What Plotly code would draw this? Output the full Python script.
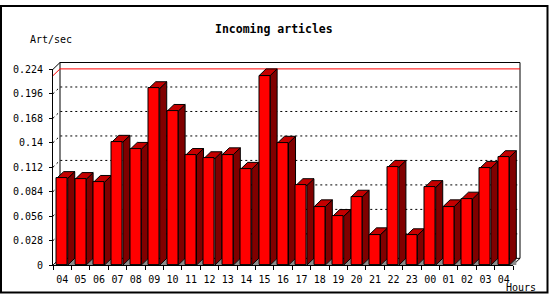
import plotly.graph_objects as go

# ---------------- data ----------------
hours = ["04", "05", "06", "07", "08", "09", "10", "11", "12", "13", "14", "15",
         "16", "17", "18", "19", "20", "21", "22", "23", "00", "01", "02", "03", "04"]
rate = [0.0992, 0.0981, 0.0948, 0.1407, 0.1326, 0.2020, 0.1760, 0.1256, 0.1219,
        0.1264, 0.1098, 0.2167, 0.1396, 0.0911, 0.0669, 0.0558, 0.0779, 0.0349,
        0.1120, 0.0338, 0.0889, 0.0669, 0.0757, 0.1109, 0.1231]
y_tick_vals = [0, 0.028, 0.056, 0.084, 0.112, 0.14, 0.168, 0.196, 0.224]
y_tick_text = ["0", "0.028", "0.056", "0.084", "0.112", "0.14", "0.168", "0.196", "0.224"]
title_text = "Incoming articles"
y_unit = "Art/sec"
x_unit = "Hours"

# ---------------- geometry (pixels) ----------------
W, H = 550, 300
X0 = 53.0          # front axis x
SLOT = 18.4        # category slot width
Y0 = 270.0         # pixel of value 0
YTOP = 66.7        # pixel of top tick
YMAX = y_tick_vals[-1]
PXPU = (Y0 - YTOP) / YMAX
DEPTH = 7.0
BAR_W = 0.6
PAD = 1.5

n = len(hours)
dx = DEPTH / SLOT
dy = DEPTH / PXPU
xs = list(range(n))

px_left = X0 - PAD
px_right = X0 + n * SLOT + DEPTH + PAD
px_bottom = Y0 + PAD
px_top = YTOP - DEPTH - PAD

x_lo = -0.5 - PAD / SLOT
x_hi = n - 0.5 + dx + PAD / SLOT
y_lo = -PAD / PXPU
y_hi = YMAX + dy + PAD / PXPU

FONT = "DejaVu Sans Mono"
RED, TOP, SIDE, SHADOW = "#ff0000", "#c40000", "#800000", "#8c8c8c"
CLEAR = "rgba(0,0,0,0)"

shapes = []
L = -0.5
R = n - 0.5

def poly(pts, fill, line_color="black", width=1, dash=None, closed=True):
    d = "M " + " L ".join(f"{x:.6f},{y:.6f}" for x, y in pts) + (" Z" if closed else "")
    line = dict(color=line_color, width=width)
    if dash:
        line["dash"] = dash
    return dict(type="path", xref="x", yref="y", path=d, fillcolor=fill,
                line=line, layer="below")

# back plane
shapes.append(poly([(L + dx, dy), (R + dx, dy), (R + dx, YMAX + dy), (L + dx, YMAX + dy)], CLEAR))
# dotted grid lines on the back wall
for t in y_tick_vals[1:-1]:
    shapes.append(poly([(L, t), (L + dx, t + dy), (R + dx, t + dy)], CLEAR,
                       dash="2px,3px", closed=False))
# connectors from front to back
shapes.append(poly([(L, YMAX), (L + dx, YMAX + dy)], CLEAR, closed=False))
shapes.append(poly([(L, 0), (L + dx, dy)], CLEAR, closed=False))
shapes.append(poly([(R, 0), (R + dx, dy)], CLEAR, closed=False))
# red maximum line
m = max(rate)
shapes.append(poly([(L, m), (L + dx, m + dy), (R + dx, m + dy)], CLEAR,
                   line_color=RED, closed=False))
# bar depth faces
for x, v in zip(xs, rate):
    xl, xr = x - BAR_W / 2, x + BAR_W / 2
    shapes.append(dict(type="path", xref="x", yref="y",
                       path=f"M {xr:.6f},0 L {xr + dx:.6f},0 L {xr + dx:.6f},{dy:.6f} Z",
                       fillcolor=SHADOW, line=dict(width=0), layer="below"))
    shapes.append(poly([(xr, 0), (xr + dx, dy), (xr + dx, v + dy), (xr, v)], SIDE))
    shapes.append(poly([(xl, v), (xr, v), (xr + dx, v + dy), (xl + dx, v + dy)], TOP))

# outer frame
shapes.append(dict(type="rect", xref="paper", yref="paper",
                   x0=1 / W, x1=547.5 / W, y0=(H - 298.5) / H, y1=(H - 1) / H,
                   line=dict(color="black", width=2), fillcolor=CLEAR))

fig = go.Figure()
fig.add_trace(go.Bar(x=xs, y=rate, width=BAR_W, xaxis="x", yaxis="y",
                     marker=dict(color=RED, line=dict(color="black", width=1)),
                     hoverinfo="skip", showlegend=False))
fig.add_trace(go.Scatter(x=[None], y=[None], xaxis="x2", yaxis="y2",
                         showlegend=False, hoverinfo="skip"))

fig.update_layout(
    width=W, height=H,
    margin=dict(l=0, r=0, t=0, b=0),
    paper_bgcolor="white", plot_bgcolor=CLEAR,
    showlegend=False, bargap=0,
    xaxis=dict(domain=[px_left / W, px_right / W], range=[x_lo, x_hi],
               visible=False, fixedrange=True),
    yaxis=dict(domain=[(H - px_bottom) / H, (H - px_top) / H], range=[y_lo, y_hi],
               visible=False, fixedrange=True),
    xaxis2=dict(domain=[X0 / W, (X0 + n * SLOT) / W], range=[-0.5, n - 0.5], anchor="y2",
                showline=True, linecolor="black", linewidth=1, showgrid=False,
                zeroline=False, tickmode="array", tickvals=xs, ticktext=hours,
                ticks="", tickfont=dict(family=FONT, size=10, color="black"),
                ticklabelstandoff=5,
                minor=dict(tickmode="array", tickvals=[i - 0.5 for i in range(n + 1)],
                           ticks="outside", ticklen=4, tickcolor="black", showgrid=False),
                fixedrange=True),
    yaxis2=dict(domain=[(H - Y0) / H, (H - YTOP) / H], range=[0, YMAX], anchor="x2",
                showline=True, linecolor="black", linewidth=1, showgrid=False,
                zeroline=False, tickmode="array", tickvals=y_tick_vals,
                ticktext=y_tick_text, ticks="outside", ticklen=3, tickcolor="black",
                tickfont=dict(family=FONT, size=10, color="black"),
                ticklabelstandoff=4, fixedrange=True),
    shapes=shapes,
    annotations=[
        dict(text=f"<b>{title_text}</b>", xref="paper", yref="paper",
             x=273.5 / W, y=(H - 24.5) / H, xanchor="center", yanchor="middle",
             showarrow=False, font=dict(family=FONT, size=11.5, color="black")),
        dict(text=y_unit, xref="paper", yref="paper", x=50.5 / W, y=(H - 35.3) / H,
             xanchor="center", yanchor="middle", showarrow=False,
             font=dict(family=FONT, size=10, color="black")),
        dict(text=x_unit, xref="paper", yref="paper", x=521 / W, y=(H - 293.3) / H,
             xanchor="center", yanchor="middle", showarrow=False, borderpad=0,
             font=dict(family=FONT, size=10, color="black")),
    ],
)

fig.write_html("out.html")
